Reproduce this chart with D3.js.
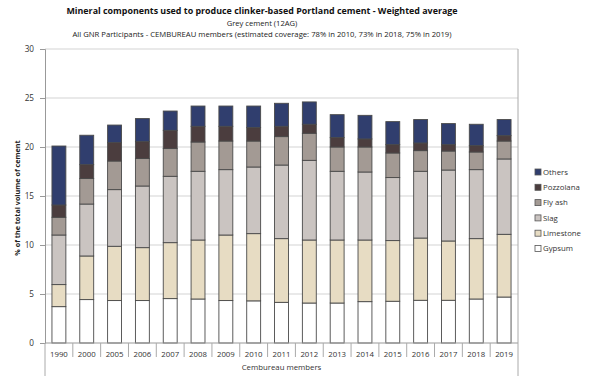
<!DOCTYPE html>
<html>
<head>
<meta charset="utf-8">
<script src="https://cdn.jsdelivr.net/npm/d3@7"></script>
<style>
  html, body { margin: 0; padding: 0; background: #fff; }
  svg { display: block; font-family: "Open Sans", "DejaVu Sans", sans-serif; }
</style>
</head>
<body>
<svg id="chart" width="594" height="378"></svg>
<script>
// Years on the category axis
const years = ["1990", "2000", "2005", "2006", "2007", "2008", "2009", "2010", "2011",
  "2012", "2013", "2014", "2015", "2016", "2017", "2018", "2019"];

// Share of each mineral component (% of total cement volume)
const gypsum    = [3.71, 4.43, 4.33, 4.33, 4.53, 4.49, 4.33, 4.30, 4.15, 4.08, 4.08, 4.22, 4.26, 4.36, 4.36, 4.49, 4.69];
const limestone = [2.25, 4.45, 5.54, 5.40, 5.71, 6.02, 6.69, 6.86, 6.50, 6.43, 6.43, 6.29, 6.19, 6.35, 6.05, 6.16, 6.40];
const slag      = [5.06, 5.30, 5.78, 6.29, 6.77, 7.01, 6.67, 6.80, 7.51, 8.13, 7.01, 6.94, 6.43, 6.81, 7.24, 7.04, 7.69];
const flyAsh    = [1.81, 2.60, 2.92, 2.80, 2.83, 2.99, 2.92, 2.65, 2.90, 2.76, 2.48, 2.55, 2.51, 2.11, 1.94, 1.80, 1.83];
const pozzolana = [1.25, 1.42, 1.88, 1.73, 1.86, 1.60, 1.50, 1.37, 1.05, 0.92, 0.96, 0.82, 0.85, 0.78, 0.65, 0.65, 0.55];
const others    = [6.02, 3.00, 1.79, 2.35, 1.97, 2.07, 2.07, 2.20, 2.35, 2.28, 2.34, 2.41, 2.35, 2.39, 2.15, 2.18, 1.64];

const seriesNames = ["Gypsum", "Limestone", "Slag", "Fly ash", "Pozzolana", "Others"];
const seriesValues = [gypsum, limestone, slag, flyAsh, pozzolana, others];
const seriesColors = ["#ffffff", "#e7dcc3", "#cac4c1", "#a39a94", "#4b3d3e", "#303e6e"];

const yTicks = [0, 5, 10, 15, 20, 25, 30];

const svg = d3.select("#chart");
const plot = { left: 45, right: 518, top: 49, bottom: 343 };

const rows = years.map((yr, i) => {
  const r = { year: yr };
  seriesNames.forEach((n, k) => r[n] = seriesValues[k][i]);
  return r;
});
const stacked = d3.stack().keys(seriesNames)(rows);

const x = d3.scaleBand().domain(years).range([plot.left, plot.right])
  .paddingInner(0.5).paddingOuter(0.25);
const y = d3.scaleLinear().domain([0, 30]).range([plot.bottom, plot.top]);
const step = x.step();

// Titles
const cx = 262;
svg.append("text").attr("x", cx).attr("y", 14).attr("text-anchor", "middle")
  .attr("font-size", 8.9).attr("font-weight", "bold").attr("fill", "#111")
  .text("Mineral components used to produce clinker-based Portland cement - Weighted average");
svg.append("text").attr("x", cx).attr("y", 25.5).attr("text-anchor", "middle")
  .attr("font-size", 7.6).attr("fill", "#222").text("Grey cement  (12AG)");
svg.append("text").attr("x", cx).attr("y", 37).attr("text-anchor", "middle")
  .attr("font-size", 7.7).attr("fill", "#222")
  .text("All GNR Participants - CEMBUREAU  members  (estimated coverage: 78% in 2010, 73% in 2018, 75% in 2019)");

// Horizontal gridlines
svg.append("g").selectAll("line").data(yTicks.filter(t => t > 0)).join("line")
  .attr("x1", plot.left).attr("x2", plot.right)
  .attr("y1", d => y(d)).attr("y2", d => y(d))
  .attr("stroke", "#d4d4d4").attr("stroke-width", 1.2);

// Y axis
const yAxis = svg.append("g").attr("transform", `translate(${plot.left},0)`)
  .call(d3.axisLeft(y).tickValues(yTicks).tickSize(5).tickPadding(6));
yAxis.select(".domain").attr("stroke", "#999");
yAxis.selectAll(".tick line").attr("stroke", "#999");
yAxis.selectAll(".tick text").attr("font-size", 8.2).attr("fill", "#333")
  .attr("font-family", "Open Sans, sans-serif");

svg.append("text")
  .attr("transform", `translate(20,${(plot.top + plot.bottom) / 2 + 2}) rotate(-90)`)
  .attr("text-anchor", "middle").attr("font-size", 7.2).attr("font-weight", "bold")
  .attr("fill", "#222").text("% of the total volume of cement");

// Stacked bars
svg.append("g").selectAll("g").data(stacked).join("g")
  .attr("fill", (d, i) => seriesColors[i])
  .selectAll("rect").data(d => d).join("rect")
  .attr("x", d => x(d.data.year))
  .attr("width", x.bandwidth())
  .attr("y", d => y(d[1]))
  .attr("height", d => y(d[0]) - y(d[1]))
  .attr("stroke", "#4a4a4a").attr("stroke-width", 0.9);

// Category axis with separators
svg.append("line").attr("x1", plot.left).attr("x2", plot.right)
  .attr("y1", plot.bottom).attr("y2", plot.bottom).attr("stroke", "#999");
svg.append("g").selectAll("line").data(d3.range(1, years.length)).join("line")
  .attr("x1", d => plot.left + d * step).attr("x2", d => plot.left + d * step)
  .attr("y1", plot.bottom).attr("y2", plot.bottom + 14).attr("stroke", "#aaa");
svg.append("g").selectAll("text").data(years).join("text")
  .attr("x", d => x(d) + x.bandwidth() / 2).attr("y", 357)
  .attr("text-anchor", "middle").attr("font-size", 7.8).attr("fill", "#333")
  .text(d => d);

// Outer edges of the category axis and right plot border
svg.append("line").attr("x1", plot.left).attr("x2", plot.left)
  .attr("y1", plot.bottom).attr("y2", 376).attr("stroke", "#aaa");
svg.append("line").attr("x1", plot.right).attr("x2", plot.right)
  .attr("y1", plot.top).attr("y2", 376).attr("stroke", "#aaa");

svg.append("text").attr("x", (plot.left + plot.right) / 2).attr("y", 370)
  .attr("text-anchor", "middle").attr("font-size", 7.8).attr("fill", "#333")
  .text("Cembureau members");

// Legend (top entry = top of stack)
const legendItems = seriesNames.map((n, i) => ({ name: n, color: seriesColors[i] })).reverse();
const lg = svg.append("g").selectAll("g").data(legendItems).join("g")
  .attr("transform", (d, i) => `translate(535,${172 + i * 15.3})`);
lg.append("rect").attr("x", 0).attr("y", -3).attr("width", 6).attr("height", 6)
  .attr("fill", d => d.color).attr("stroke", "#555").attr("stroke-width", 0.8);
lg.append("text").attr("x", 8).attr("y", 2.8).attr("font-size", 7.8).attr("fill", "#333")
  .text(d => d.name);
</script>
</body>
</html>
